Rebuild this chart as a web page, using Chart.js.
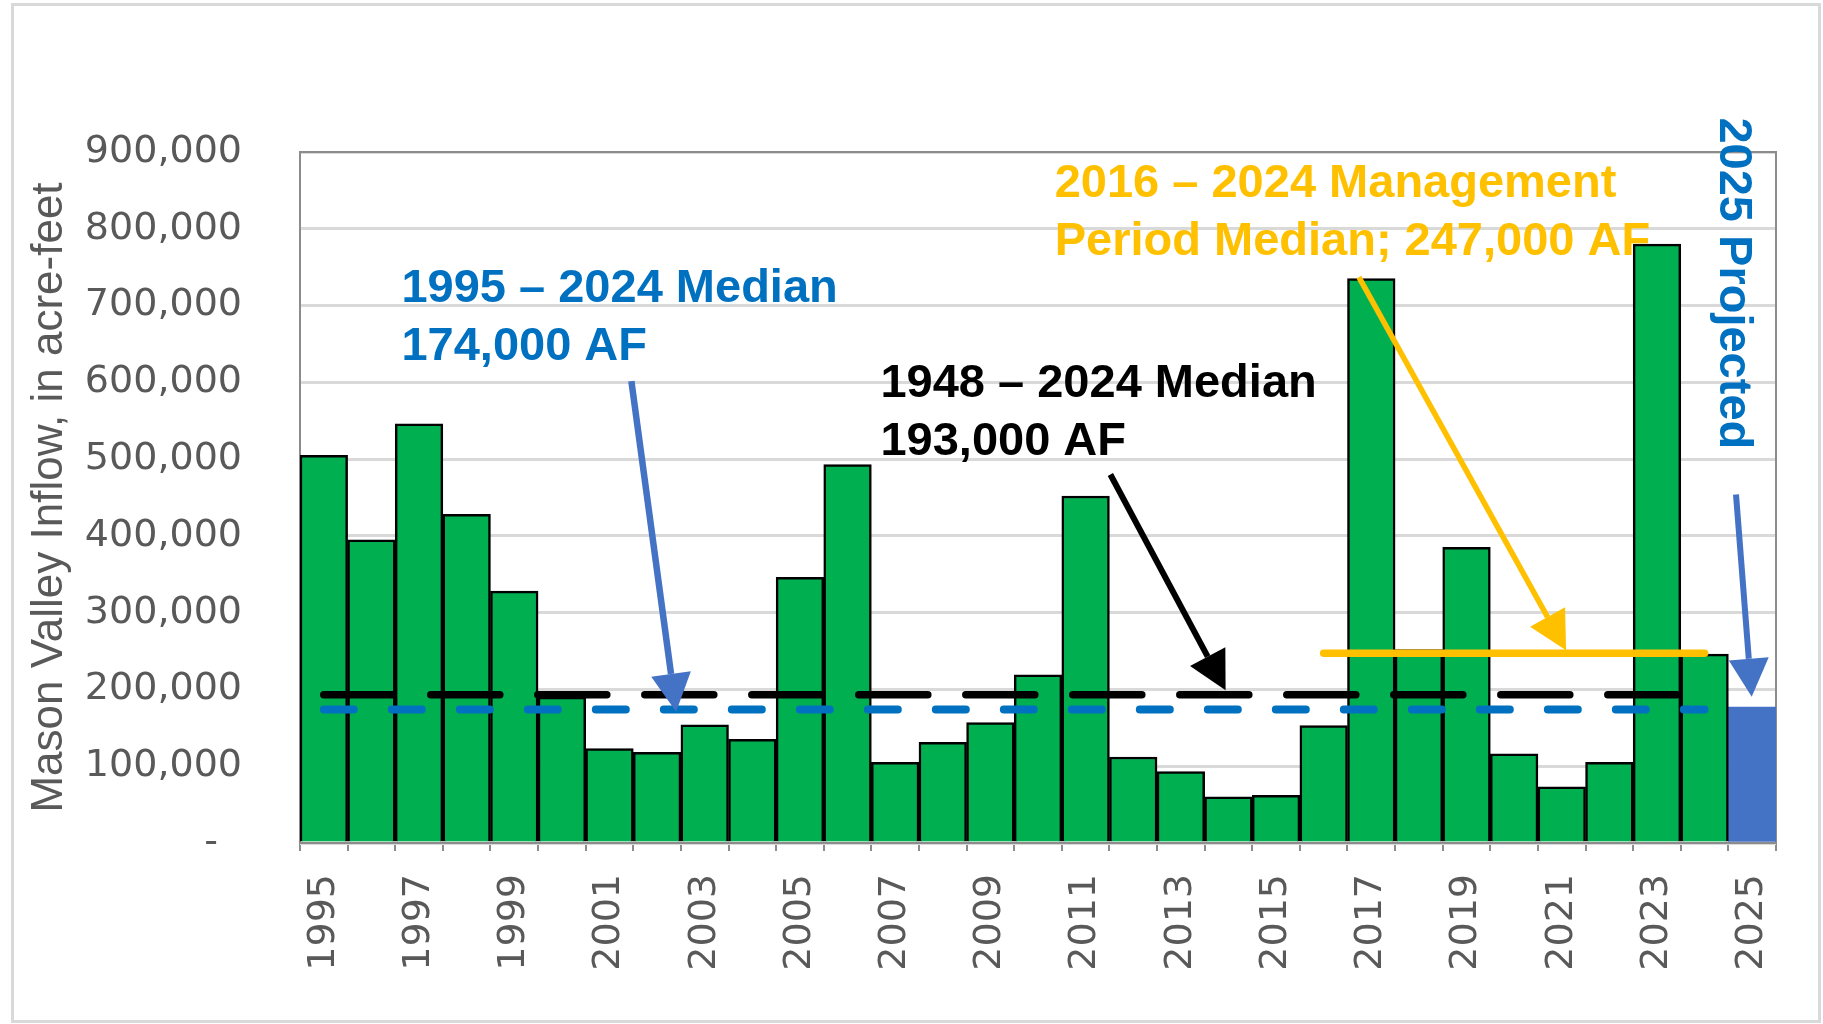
<!DOCTYPE html>
<html>
<head>
<meta charset="utf-8">
<script src="https://cdn.jsdelivr.net/npm/chart.js@4.4.1/dist/chart.umd.min.js"></script>
<style>
html,body{margin:0;padding:0;background:#fff}
</style>
</head>
<body>
<canvas id="chart" width="1823" height="1024"></canvas>
<script>
// Mason Valley inflow, acre-feet
const years = ['1995','1996','1997','1998','1999','2000','2001','2002','2003','2004',
               '2005','2006','2007','2008','2009','2010','2011','2012','2013','2014',
               '2015','2016','2017','2018','2019','2020','2021','2022','2023','2024','2025']
const inflow = [505000,395000,546000,428000,328000,190000,123000,118000,154000,135000,
                346000,493000,105000,131000,157000,219000,452000,112000,93000,60000,
                62000,153000,735000,252000,385000,116000,73000,105000,780000,246000]
const projected2025 = 177000
const median1948 = 193000   // 1948 - 2024
const median1995 = 174000   // 1995 - 2024
const median2016 = 247000   // 2016 - 2024 management period
const yTicks = [0,100000,200000,300000,400000,500000,600000,700000,800000,900000]

// annotations, in chart units (category index, acre-feet)
const textos = [
    {lineas:['1995 – 2024 Median','174,000 AF'], color:'#0070C0', en:[1.63, 705000]},
    {lineas:['1948 – 2024 Median','193,000 AF'], color:'#000000', en:[11.69, 581500]},
    {lineas:['2016 – 2024 Management','Period Median; 247,000 AF'], color:'#FFC000', en:[15.35, 841400]},
    {lineas:['2025 Projected'], color:'#0070C0', en:[29.32, 945000], giro:true}
]
const flechas = [
    {desde:[6.46, 601600], hasta:[7.40, 171000], color:'#4472C4', ancho:6.5},
    {desde:[16.52, 480000], hasta:[18.94, 199000], color:'#000000', ancho:6},
    {desde:[21.74, 737000], hasta:[26.09, 251000], color:'#FFC000', ancho:5.5},
    {desde:[29.66, 454000], hasta:[29.99, 190500], color:'#4472C4', ancho:6}
]

function formato(v){
    return String(v).replace(/\B(?=(\d{3})+(?!\d))/g, ',')
}

function dibujarFlecha(ctx, x1, y1, x2, y2, color, ancho){
    const ang = Math.atan2(y2-y1, x2-x1)
    const largo = 38, mitad = 20
    const bx = x2 - largo*Math.cos(ang)
    const by = y2 - largo*Math.sin(ang)
    ctx.save()
    ctx.strokeStyle = color
    ctx.fillStyle = color
    ctx.lineWidth = ancho
    ctx.beginPath()
    ctx.moveTo(x1, y1)
    ctx.lineTo(bx, by)
    ctx.stroke()
    ctx.beginPath()
    ctx.moveTo(x2, y2)
    ctx.lineTo(bx + mitad*Math.sin(ang), by - mitad*Math.cos(ang))
    ctx.lineTo(bx - mitad*Math.sin(ang), by + mitad*Math.cos(ang))
    ctx.closePath()
    ctx.fill()
    ctx.restore()
}

const notas = {
    id: 'notas',
    beforeDraw(chart){
        const ctx = chart.ctx
        ctx.save()
        ctx.fillStyle = '#fff'
        ctx.fillRect(0, 0, chart.width, chart.height)
        ctx.strokeStyle = '#d9d9d9'
        ctx.lineWidth = 3
        ctx.strokeRect(12.5, 4.5, 1807, 1017)
        ctx.restore()
    },
    beforeDatasetsDraw(chart){
        const {ctx, chartArea: a} = chart
        ctx.save()
        ctx.strokeStyle = '#8c8c8c'
        ctx.lineWidth = 2
        ctx.strokeRect(a.left, a.top, a.right - a.left, a.bottom - a.top)
        ctx.restore()
    },
    afterDatasetsDraw(chart){
        const ctx = chart.ctx
        const sx = chart.scales.x, sy = chart.scales.y

        flechas.forEach(f => {
            dibujarFlecha(ctx,
                sx.getPixelForValue(f.desde[0]), sy.getPixelForValue(f.desde[1]),
                sx.getPixelForValue(f.hasta[0]), sy.getPixelForValue(f.hasta[1]),
                f.color, f.ancho)
        })

        textos.forEach(t => {
            const px = sx.getPixelForValue(t.en[0])
            const py = sy.getPixelForValue(t.en[1])
            ctx.save()
            ctx.fillStyle = t.color
            ctx.font = 'bold 47px "Liberation Sans", Arial, sans-serif'
            ctx.textAlign = 'left'
            ctx.textBaseline = 'alphabetic'
            ctx.translate(px, py)
            if (t.giro) ctx.rotate(Math.PI/2)
            t.lineas.forEach((linea, i) => ctx.fillText(linea, 0, i*58))
            ctx.restore()
        })
    }
}

const ctx = document.getElementById('chart')

new Chart(ctx, {
    data: {
        labels: years,
        datasets: [{
            type: 'line',
            label: '1948 - 2024 Median',
            data: [{x:'1995', y:median1948}, {x:'2024', y:median1948}],
            borderColor: '#000000',
            borderWidth: 7.5,
            borderDash: [69, 38],
            borderCapStyle: 'round',
            pointRadius: 0,
            order: 0
        },{
            type: 'line',
            label: '1995 - 2024 Median',
            data: [{x:'1995', y:median1995}, {x:'2024', y:median1995}],
            borderColor: '#0070C0',
            borderWidth: 8,
            borderDash: [30, 38],
            borderCapStyle: 'round',
            pointRadius: 0,
            order: 0
        },{
            type: 'line',
            label: '2016 - 2024 Median',
            data: [{x:'2016', y:median2016}, {x:'2024', y:median2016}],
            borderColor: '#FFC000',
            borderWidth: 7.5,
            borderCapStyle: 'round',
            pointRadius: 0,
            order: 0
        },{
            type: 'bar',
            label: 'Inflow',
            data: inflow,
            backgroundColor: '#00B050',
            borderColor: '#000000',
            borderWidth: 2.5,
            categoryPercentage: 1,
            barPercentage: 1,
            order: 1
        },{
            type: 'bar',
            label: '2025 Projected',
            data: [{x:'2025', y:projected2025}],
            backgroundColor: '#4472C4',
            borderWidth: 0,
            categoryPercentage: 1,
            barPercentage: 1,
            order: 1
        }]
    },
    options: {
        responsive: false,
        animation: false,
        layout: {padding: {left:15, right:47, top:152, bottom:0}},
        plugins: {legend: {display:false}, tooltip: {enabled:false}},
        scales: {
            x: {
                stacked: true,
                ticks: {
                    color: '#595959',
                    font: {family:'DejaVu Sans', size:38},
                    minRotation: 90,
                    maxRotation: 90,
                    autoSkip: false,
                    padding: 23,
                    callback(v, i){ return i % 2 === 0 ? this.getLabelForValue(v) : '' }
                },
                grid: {drawOnChartArea:false, color:'#8c8c8c', lineWidth:2, tickLength:8},
                border: {display:false},
                afterFit(s){ s.height = 181 }
            },
            y: {
                min: 0,
                max: 900000,
                afterBuildTicks(s){ s.ticks = yTicks.map(v => ({value:v})) },
                ticks: {
                    color: '#595959',
                    font: {family:'DejaVu Sans', size:38},
                    padding: 58,
                    callback: v => v === 0 ? '-  ' : formato(v)
                },
                grid: {color:'#d9d9d9', lineWidth:3, drawTicks:false},
                border: {display:false},
                title: {
                    display: true,
                    text: 'Mason Valley Inflow, in acre-feet',
                    color: '#595959',
                    font: {family:'Liberation Sans', size:44},
                    padding: {top:8}
                },
                afterFit(s){ s.width = 285 }
            }
        }
    },
    plugins: [notas]
})
</script>
</body>
</html>
